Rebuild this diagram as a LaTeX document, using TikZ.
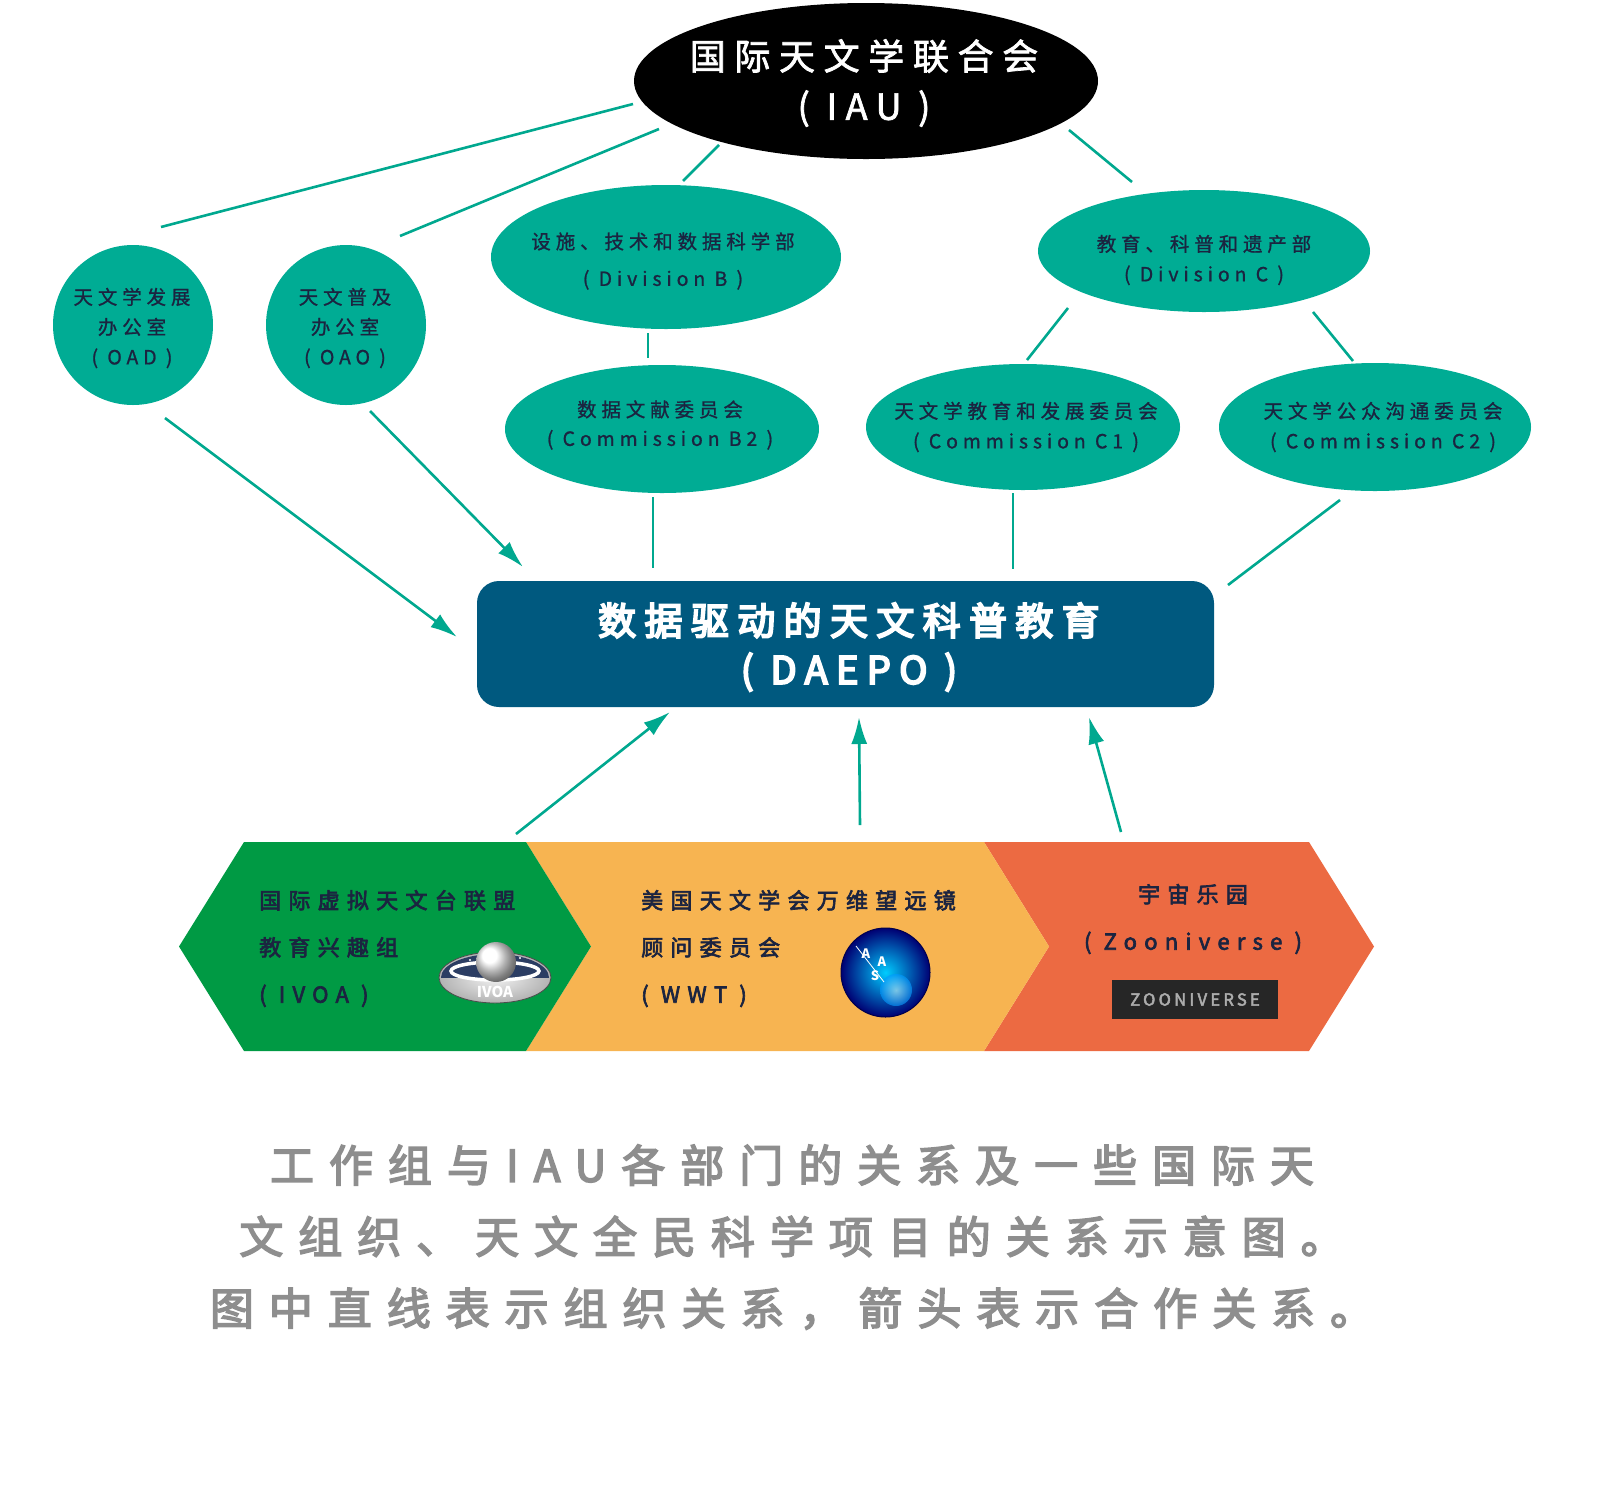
\documentclass[tikz,border=0pt]{standalone}
\usepackage{fontspec}
\setmainfont{Noto Sans CJK SC}
\newfontfamily\fIAU[LetterSpace=24,FakeBold=2]{Noto Sans CJK SC}
\newfontfamily\fEl[LetterSpace=25,FakeBold=1]{Noto Sans CJK SC}
\newfontfamily\fBand[LetterSpace=33,FakeBold=3]{Noto Sans CJK SC}
\newfontfamily\fDa[LetterSpace=22,FakeBold=5]{Noto Sans CJK SC}
\newfontfamily\fCap[LetterSpace=34,FakeBold=3.5]{Noto Sans CJK SC}
\newfontfamily\fZoo[LetterSpace=20,FakeBold=3]{Noto Sans CJK SC}
\usetikzlibrary{shapes.geometric,arrows.meta,calc}
\definecolor{tealc}{HTML}{00AC94}
\definecolor{linec}{HTML}{00A88F}
\definecolor{navyc}{HTML}{1B2440}
\definecolor{boxc}{HTML}{00597F}
\definecolor{greenc}{HTML}{009A44}
\definecolor{orangec}{HTML}{F7B451}
\definecolor{redc}{HTML}{EC6A42}
\definecolor{capc}{HTML}{8E8E8E}
\definecolor{zooc}{HTML}{262626}
\definecolor{ivoablue}{HTML}{2B3D63}
\tikzset{
  org/.style={ellipse, fill=tealc, draw=none, inner sep=0pt},
  office/.style={circle, fill=tealc, draw=none, inner sep=0pt, minimum size=160pt},
  etext/.style={text=navyc, align=center, inner sep=0pt},
  btext/.style={text=navyc, inner sep=0pt, font=\fBand\fontsize{22pt}{47pt}\selectfont},
  logoletter/.style={text=white, inner sep=0pt, font=\bfseries\fontsize{13pt}{13pt}\selectfont},
  rel/.style={draw=linec, line width=2.6pt},
  coop/.style={rel, -{Latex[length=27pt,width=16pt]}},
}
\begin{document}
\begin{tikzpicture}[x=1pt,y=-1pt]
\useasboundingbox (0,0) rectangle (1600,1500);
% ---------- IAU
\node[ellipse, fill=black, inner sep=0pt, minimum width=464pt, minimum height=156pt] (iau) at (866,81) {};
\node[text=white, align=center, inner sep=0pt, font=\fIAU\fontsize{36pt}{50pt}\selectfont] (iaut) at (864,83) {国际天文学联合会\\( IAU )};
% ---------- offices
\node[office] (oad) at (133,325) {};
\node[etext, font=\fEl\fontsize{19.5pt}{30pt}\selectfont] (oadt) at (132,328) {天文学发展\\办公室\\( OAD )};
\node[office] (oao) at (346,325) {};
\node[etext, font=\fEl\fontsize{19.5pt}{30pt}\selectfont] (oaot) at (345,328) {天文普及\\办公室\\( OAO )};
% ---------- divisions
\node[org, minimum width=350pt, minimum height=144pt] (divb) at (666,257) {};
\node[etext, font=\fEl\fontsize{19.5pt}{37pt}\selectfont] (divbt) at (663,261) {设施、技术和数据科学部\\( Division B )};
\node[org, minimum width=332pt, minimum height=122pt] (divc) at (1204,251) {};
\node[etext, font=\fEl\fontsize{19.5pt}{30pt}\selectfont] (divct) at (1204,260) {教育、科普和遗产部\\( Division C )};
% ---------- commissions
\node[org, minimum width=314pt, minimum height=128pt] (b2) at (662,429) {};
\node[etext, font=\fEl\fontsize{19.5pt}{29pt}\selectfont] (b2t) at (660,425) {数据文献委员会\\( Commission B2 )};
\node[org, minimum width=314pt, minimum height=126pt] (c1) at (1023,427) {};
\node[etext, font=\fEl\fontsize{19.5pt}{30pt}\selectfont] (c1t) at (1026,427) {天文学教育和发展委员会\\( Commission C1 )};
\node[org, minimum width=312pt, minimum height=128pt] (c2) at (1375,427) {};
\node[etext, font=\fEl\fontsize{19.5pt}{30pt}\selectfont] (c2t) at (1383,427) {天文学公众沟通委员会\\( Commission C2 )};
% ---------- DAEPO
\node[fill=boxc, rounded corners=22pt, inner sep=0pt, minimum width=737pt, minimum height=126pt] (daepo) at (845.5,644) {};
\node[text=white, align=center, inner sep=0pt, font=\fDa\fontsize{38pt}{49pt}\selectfont] (daepot) at (849,647) {数据驱动的天文科普教育\\( DAEPO )};
% ---------- bands
\fill[redc] (984,842) -- (1309,842) -- (1374,946.5) -- (1309,1051) -- (984,1051) -- (1049,946.5) -- cycle;
\fill[orangec] (526,842) -- (984,842) -- (1049,946.5) -- (984,1051) -- (526,1051) -- (591,946.5) -- cycle;
\fill[greenc] (179,946.5) -- (244,842) -- (526,842) -- (591,946.5) -- (526,1051) -- (244,1051) -- cycle;
\coordinate (gband) at (385,946.5);
\coordinate (oband) at (788,946.5);
\coordinate (rband) at (1179,946.5);
\node[btext, anchor=west, align=left] (ivoa) at (259,948.5) {国际虚拟天文台联盟\\教育兴趣组\\( IVOA )};
\node[btext, anchor=west, align=left] (wwt) at (641,948.5) {美国天文学会万维望远镜\\顾问委员会\\( WWT )};
\node[btext, align=center] (zoo) at (1193,919) {宇宙乐园\\( Zooniverse )};
% IVOA logo
\shade[inner color=gray!10, outer color=gray!60, draw=gray!60!black, line width=0.8pt] (495,977.5) ellipse [x radius=56pt, y radius=25.5pt];
\begin{scope}
  \clip (495,977.5) ellipse [x radius=54pt, y radius=23.5pt];
  \fill[ivoablue] (430,940) rectangle (560,978);
  \foreach \sx/\sy in {455/968,470/960,520/958,532/966,512/972}{\fill[white] (\sx,\sy) circle (1.2pt);}
\end{scope}
\draw[white, line width=3.5pt] (495,971) ellipse [x radius=44pt, y radius=9pt];
\shade[ball color=white] (496,962) circle (20pt);
\node[text=white, inner sep=0pt, font=\bfseries\fontsize{15pt}{15pt}\selectfont] (ivoalogo) at (495,992) {IVOA};
% AAS logo
\shade[inner color=cyan!80!blue, outer color=blue!45!black, draw=blue!30!black, line width=1pt] (885.5,972.5) circle (44.5pt);
\shade[inner color=white!80!cyan, outer color=cyan!60!blue, opacity=0.6] (896,990) circle (16pt);
\draw[white, line width=0.8pt] (856,946) -- (884,982);
\node[logoletter] (aas1) at (866,954) {A};
\node[logoletter] (aas2) at (882,962) {A};
\node[logoletter] (aas3) at (875,976) {S};
% Zooniverse logo
\node[fill=zooc, inner sep=0pt, minimum width=166pt, minimum height=39pt, text=gray!65, font=\fZoo\fontsize{16.5pt}{16.5pt}\selectfont] (zlogo) at (1195,999.5) {ZOONIVERSE};
% ---------- organisational lines
\draw[rel] ($(iau)+(-233,23)$) -- ($(oad)+(28,-98)$);
\draw[rel] ($(iau)+(-207,48)$) -- ($(oao)+(54,-89)$);
\draw[rel] ($(iau)+(-147,64)$) -- ($(divb)+(17,-76)$);
\draw[rel] ($(iau)+(203,49)$) -- ($(divc)+(-72,-69)$);
\draw[rel] ($(divb)+(-18,76)$) -- ($(b2)+(-14,-71)$);
\draw[rel] ($(divc)+(-136,57)$) -- ($(c1)+(4,-67)$);
\draw[rel] ($(divc)+(109,61)$) -- ($(c2)+(-22,-66)$);
\draw[rel] ($(b2)+(-9,68)$) -- ($(daepo)+(-192.5,-76)$);
\draw[rel] ($(c1)+(-10,66)$) -- ($(daepo)+(167.5,-75)$);
\draw[rel] ($(c2)+(-35,73)$) -- ($(daepo)+(382.5,-59)$);
% ---------- cooperation arrows
\draw[coop] ($(oad)+(32,93)$) -- ($(daepo)+(-388.5,-7)$);
\draw[coop] ($(oao)+(24,86)$) -- ($(daepo)+(-322.5,-77)$);
\draw[coop] ($(gband)+(131,-112.5)$) -- ($(daepo)+(-175.5,68)$);
\draw[coop] ($(oband)+(72,-121.5)$) -- ($(daepo)+(13.5,73)$);
\draw[coop] ($(rband)+(-58,-114.5)$) -- ($(daepo)+(243.5,73)$);
% ---------- caption
\node[text=capc, align=center, inner sep=0pt, font=\fCap\fontsize{44pt}{71.5pt}\selectfont] (caption) at (792,1237) {工作组与IAU各部门的关系及一些国际天\\文组织、天文全民科学项目的关系示意图。\\图中直线表示组织关系，箭头表示合作关系。};
\end{tikzpicture}
\end{document}
